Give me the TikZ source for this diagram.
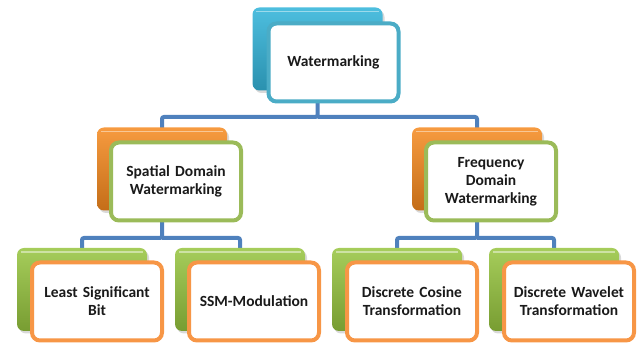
\documentclass[tikz,border=0pt]{standalone}
\usepackage{fontspec}
\setmainfont{Carlito}[WordSpace=0.8]
\usetikzlibrary{shadows}
\definecolor{connblue}{HTML}{4F81BD}
\definecolor{aquaB}{HTML}{4BACC6}
\definecolor{greenB}{HTML}{9BBB59}
\definecolor{orangeB}{HTML}{F79646}
\definecolor{cyanM}{HTML}{35B5DA}
\definecolor{orangeM}{HTML}{F5891E}
\definecolor{greenM}{HTML}{96C43E}
\definecolor{txt}{HTML}{1A1A1A}
\tikzset{
  backbox/.style={rounded corners=7pt, minimum width=130pt, minimum height=83pt, inner sep=0pt,
    drop shadow={opacity=0.3, shadow xshift=2pt, shadow yshift=-2.5pt}},
  cyanback/.style={backbox, top color=cyanM!88!white, middle color=cyanM, bottom color=cyanM!80!black},
  orangeback/.style={backbox, top color=orangeM!85!white, middle color=orangeM, bottom color=orangeM!80!black},
  greenback/.style={backbox, top color=greenM!85!white, middle color=greenM, bottom color=greenM!80!black},
  hilite/.style={draw=white, draw opacity=0.45, line width=1.5pt, rounded corners=5pt},
  frontbox/.style={rounded corners=8pt, line width=4pt, fill=white, minimum width=128pt, minimum height=78pt,
    inner sep=2pt, text width=126pt, align=center, text=txt,
    font=\fontsize{15.5}{18}\selectfont\bfseries},
  topfront/.style={frontbox, draw=aquaB},
  midfront/.style={frontbox, draw=greenB},
  lowfront/.style={frontbox, draw=orangeB},
  conn/.style={draw=connblue, line width=4pt, rounded corners=2pt}
}
\newcommand{\backhilite}[1]{\path[hilite] ([xshift=4pt,yshift=-4pt]#1.north west) -- ([xshift=-4pt,yshift=-4pt]#1.north east);}
\begin{document}
\begin{tikzpicture}[x=1pt,y=-1pt]
\useasboundingbox (0,0) rectangle (641,347);
% back box centres and junctions
\coordinate (tbc) at (317.5,49);
\coordinate (lbc) at (162,169);
\coordinate (rbc) at (477,169);
\coordinate (b1c) at (82,289.5);
\coordinate (b2c) at (240,289.5);
\coordinate (b3c) at (397,289.5);
\coordinate (b4c) at (554,289.5);
\coordinate (j1) at (317.5,117);
\coordinate (j2) at (162,238);
\coordinate (j3) at (477,238);
% connectors
\draw[conn] (tbc) -- (j1) -| (lbc);
\draw[conn] (j1) -| (rbc);
\draw[conn] (lbc) -- (j2) -| (b1c);
\draw[conn] (j2) -| (b2c);
\draw[conn] (rbc) -- (j3) -| (b3c);
\draw[conn] (j3) -| (b4c);
% units
\node[cyanback] (tb) at (tbc) {}; \backhilite{tb}
\node[topfront] (t) at (333.5,62.5) {Watermarking};
\node[orangeback] (lb) at (lbc) {}; \backhilite{lb}
\node[midfront] (l) at (176,181.5) {Spatial Domain\\Watermarking};
\node[orangeback] (rb) at (rbc) {}; \backhilite{rb}
\node[midfront] (r) at (491,181.5) {Frequency\\Domain\\Watermarking};
\node[greenback] (b1) at (b1c) {}; \backhilite{b1}
\node[lowfront] (f1) at (97,301.5) {Least Significant\\Bit};
\node[greenback] (b2) at (b2c) {}; \backhilite{b2}
\node[lowfront] (f2) at (254,301.5) {SSM-Modulation};
\node[greenback] (b3) at (b3c) {}; \backhilite{b3}
\node[lowfront] (f3) at (412,301.5) {Discrete Cosine\\Transformation};
\node[greenback] (b4) at (b4c) {}; \backhilite{b4}
\node[lowfront] (f4) at (569,301.5) {Discrete Wavelet\\Transformation};
\end{tikzpicture}
\end{document}
